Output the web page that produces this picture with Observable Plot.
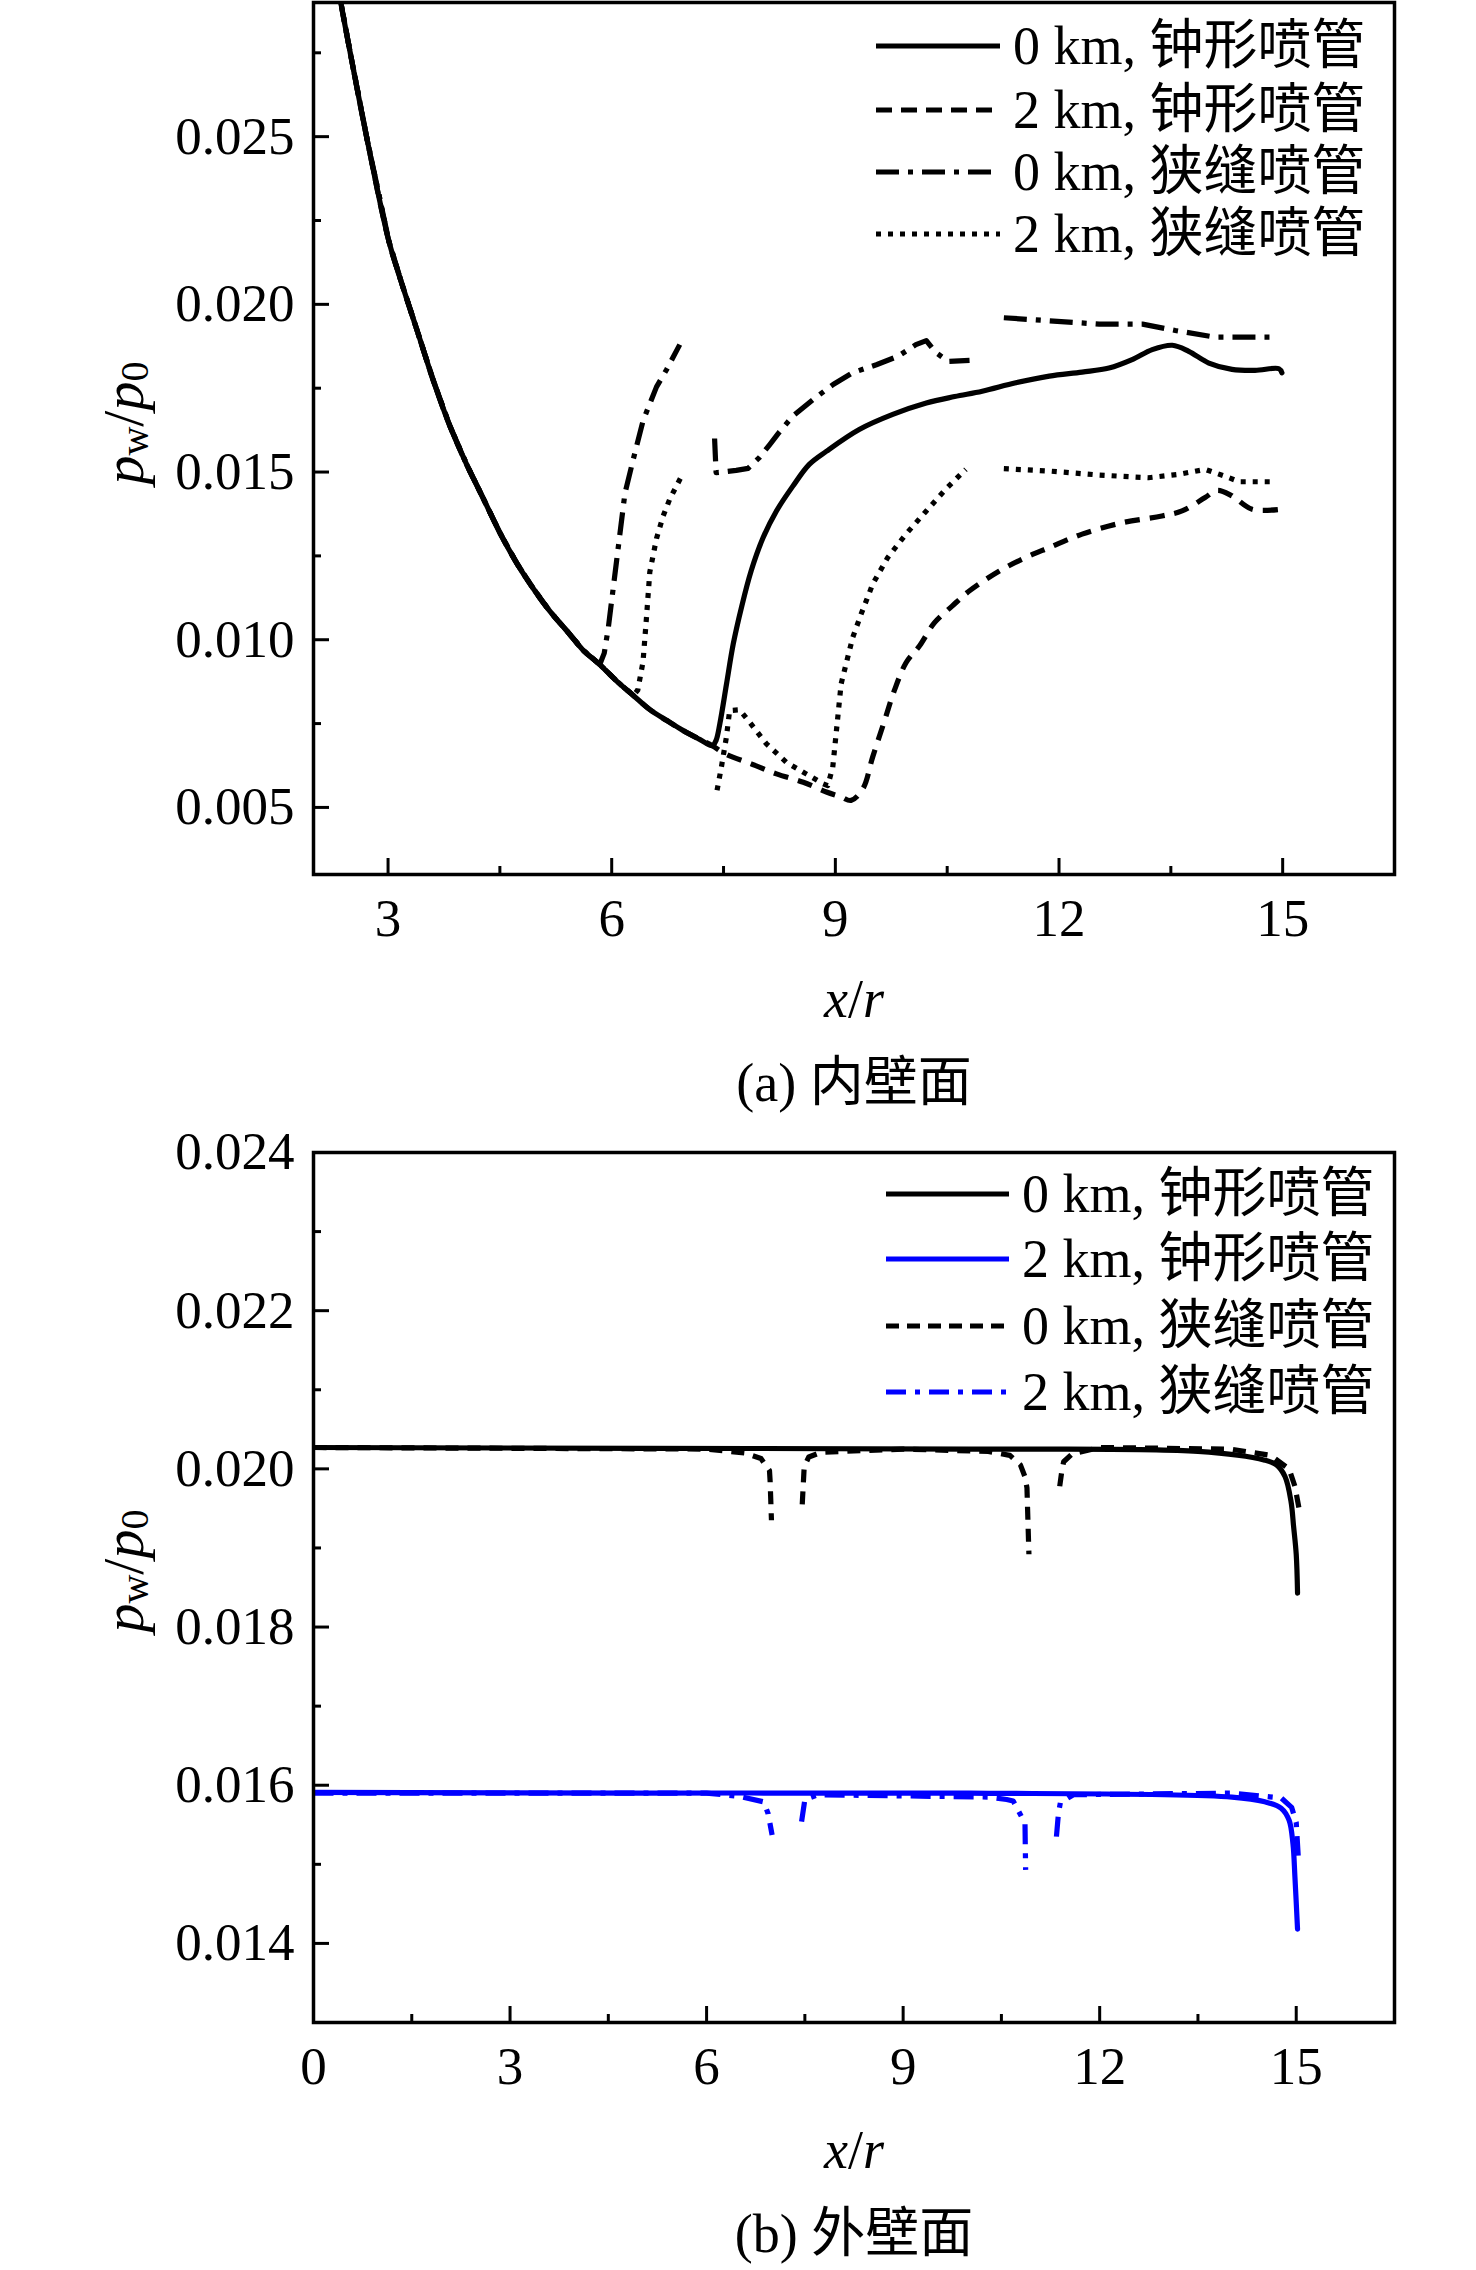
<!DOCTYPE html>
<html><head><meta charset="utf-8">
<script src="https://cdn.jsdelivr.net/npm/d3@7"></script>
<script src="https://cdn.jsdelivr.net/npm/@observablehq/plot@0.6"></script>
<style>
body{margin:0;background:#fff;}
#wrap{width:1476px;height:2270px;position:relative;overflow:hidden;background:#fff;}
#wrap svg{display:block;}
</style></head><body><div id="wrap"></div>
<script>
const FONT = '"Liberation Serif","Times New Roman","Noto Sans CJK SC",serif';

// ---------- (a) inner wall ----------
const earlyX = [2.33, 2.36, 2.50, 2.72, 3.01, 3.17, 3.39, 3.61, 3.83, 4.06, 4.28, 4.50, 4.73, 4.95, 5.17, 5.40, 5.62, 5.84];
const earlyY = [0.0296, 0.02909, 0.02742, 0.02491, 0.02189, 0.02072, 0.01922, 0.01771, 0.01637, 0.01520, 0.01420, 0.01319, 0.01227, 0.01152, 0.01085, 0.01026, 0.00968, 0.00926];
const midX = [6.07, 6.29, 6.51, 6.74, 6.96, 7.18, 7.35];
const midY = [0.00876, 0.00834, 0.00792, 0.00759, 0.00729, 0.00703, 0.00684];

const bell0X = [7.40, 7.45, 7.54, 7.63, 7.74, 7.87, 8.03, 8.21, 8.43, 8.65, 8.88, 9.32, 9.77, 10.22, 10.60, 10.97, 11.42, 11.87, 12.31, 12.67, 12.98, 13.25, 13.52, 13.74, 14.01, 14.32, 14.63, 14.95, 14.99];
const bell0Y = [0.00700, 0.00749, 0.00868, 0.00987, 0.01096, 0.01205, 0.01304, 0.01384, 0.01458, 0.01523, 0.01562, 0.01627, 0.01672, 0.01706, 0.01725, 0.01741, 0.01766, 0.01786, 0.01798, 0.01810, 0.01835, 0.01865, 0.01878, 0.01860, 0.01825, 0.01806, 0.01803, 0.01808, 0.01796];

const bell2X = [7.52, 7.87, 8.21, 8.57, 8.88, 9.08, 9.21, 9.37, 9.50, 9.66, 9.79, 9.95, 10.13, 10.33, 10.57, 10.80, 11.20, 11.55, 11.87, 12.31, 12.85, 13.38, 13.65, 13.96, 14.12, 14.32, 14.59, 14.97];
const bell2Y = [0.00660, 0.00630, 0.00600, 0.00575, 0.00546, 0.00531, 0.00521, 0.00556, 0.00650, 0.00759, 0.00848, 0.00932, 0.00982, 0.01051, 0.01101, 0.01146, 0.01205, 0.01245, 0.01275, 0.01315, 0.01349, 0.01369, 0.01384, 0.01424, 0.01445, 0.01429, 0.01389, 0.01389];

const slit0X = [5.90, 5.954, 6.066, 6.177, 6.288, 6.422, 6.601, 6.735, 6.913, null,
  7.38, 7.40, 7.67, 7.83, 7.98, 8.12, 8.23, 8.43, 8.70, 8.97, 9.23, 9.55, 9.84, 10.08, 10.22, 10.34, 10.51, 10.80, null,
  11.26, 11.87, 12.54, 13.12, 13.56, 14.10, 14.92];
const slit0Y = [0.00960, 0.01035, 0.01236, 0.01436, 0.01537, 0.01654, 0.01754, 0.01805, 0.01880, null,
  0.01600, 0.01498, 0.01505, 0.01511, 0.01543, 0.01582, 0.01614, 0.01667, 0.01716, 0.01761, 0.01796, 0.01820, 0.01845, 0.01880, 0.01892, 0.01858, 0.01830, 0.01833, null,
  0.01960, 0.01951, 0.01941, 0.01941, 0.01922, 0.01902, 0.01902];

const slit2X = [6.35, 6.42, 6.467, 6.511, 6.601, 6.69, 6.78, 6.935, null,
  7.413, 7.471, 7.538, 7.582, 7.716, 7.85, 8.073, 8.341, 8.608, 8.831, 8.898, 8.965, 9.01, 9.077, 9.144, 9.233, 9.345, 9.501, 9.702, 9.947, 10.22, 10.48, 10.75, null,
  11.26, 11.87, 12.54, 13.20, 13.60, 13.96, 14.22, 14.42, 14.92];
const slit2Y = [0.00850, 0.00934, 0.01068, 0.01202, 0.01302, 0.01369, 0.01420, 0.01487, null,
  0.00551, 0.00620, 0.00709, 0.00789, 0.00791, 0.00754, 0.00690, 0.00635, 0.00600, 0.00571, 0.00565, 0.00620, 0.00719, 0.00868, 0.00928, 0.01007, 0.01076, 0.01166, 0.01245, 0.01315, 0.01384, 0.01449, 0.01508, null,
  0.01510, 0.01503, 0.01491, 0.01483, 0.01493, 0.01508, 0.01488, 0.01471, 0.01471];

const topXMajor = [3, 6, 9, 12, 15];
const topXMinor = [4.5, 7.5, 10.5, 13.5];
const topYMajor = [0.005, 0.010, 0.015, 0.020, 0.025];
const topYMinor = [0.0075, 0.0125, 0.0175, 0.0225, 0.0275];
const topLabels = ["0 km, 钟形喷管", "2 km, 钟形喷管", "0 km, 狭缝喷管", "2 km, 狭缝喷管"];

// ---------- (b) outer wall ----------
const oBell0X = [0, 5, 10, 13.5, 14.52, 14.70, 14.83, 14.92, 14.96, 15.00, 15.02];
const oBell0Y = [0.02027, 0.02026, 0.02025, 0.02022, 0.02011, 0.02005, 0.01990, 0.01959, 0.01927, 0.01892, 0.01843];
const oBell2X = [0, 5, 10, 14.02, 14.52, 14.77, 14.89, 14.95, 14.98, 15.02];
const oBell2Y = [0.01591, 0.01590, 0.01590, 0.01585, 0.01579, 0.01571, 0.01556, 0.01526, 0.01484, 0.01418];
const oSlit0X = [0, 6.0, 6.58, 6.83, 6.96, 6.97, 6.99, null, 7.46, 7.49, 7.56, 7.75, 9.0, 10.30, 10.63, 10.79, 10.86, 10.89, 10.92, null, 11.39, 11.42, 11.45, 11.58, 12.0, 14.0, 14.61, 14.89, 14.98, 15.04];
const oSlit0Y = [0.02027, 0.02025, 0.02020, 0.02013, 0.01998, 0.01984, 0.01935, null, 0.01955, 0.02003, 0.02015, 0.02021, 0.02025, 0.02022, 0.02017, 0.02005, 0.01990, 0.01976, 0.01892, null, 0.01978, 0.01996, 0.02009, 0.02019, 0.02027, 0.02025, 0.02017, 0.02000, 0.01978, 0.01951];
const oSlit2X = [0, 6.0, 6.5, 6.87, 6.94, 7.0, null, 7.45, 7.50, 7.7, 10.30, 10.58, 10.68, 10.86, 10.865, 10.87, null, 11.34, 11.37, 11.40, 11.6, 14.0, 14.77, 14.93, 15.0, 15.03];
const oSlit2Y = [0.01590, 0.01590, 0.01586, 0.01579, 0.01564, 0.01537, null, 0.01554, 0.01582, 0.01588, 0.01585, 0.01582, 0.01580, 0.01552, 0.01520, 0.01493, null, 0.01535, 0.01564, 0.01578, 0.01588, 0.01590, 0.01584, 0.01572, 0.01553, 0.01511];

const botXMajor = [0, 3, 6, 9, 12, 15];
const botXMinor = [1.5, 4.5, 7.5, 10.5, 13.5];
const botYMajor = [0.014, 0.016, 0.018, 0.020, 0.022, 0.024];
const botYMinor = [0.015, 0.017, 0.019, 0.021, 0.023];
const botLabels = ["0 km, 钟形喷管", "2 km, 钟形喷管", "0 km, 狭缝喷管", "2 km, 狭缝喷管"];

const BLUE = "#0000ff";

function rows(xs, ys) { return xs.map((x, i) => ({x, y: ys[i]})); }

// series tables (early parts shared with the bell curve, drawn beneath it)
const tBell0 = rows([...earlyX, ...midX, ...bell0X], [...earlyY, ...midY, ...bell0Y]);
const tBell2 = rows([...earlyX, ...midX, ...bell2X], [...earlyY, ...midY, ...bell2Y]);
const tSlit0 = rows([...earlyX, ...slit0X], [...earlyY, ...slit0Y]);
const tSlit2 = rows([...earlyX, 6.07, 6.29, ...slit2X], [...earlyY, 0.00876, 0.00834, ...slit2Y]);

const LW = 5.2;
const DASH_A = "15,10", DOT_A = "5,7", DASHDOT_A = "23,9,5,9";
const DASH_B = "13,9", DASHDOT_B = "20,9,5,9";

function axes(xMaj, xMin, yMaj, yMin, fmtY) {
  return [
    Plot.axisX(xMaj, {tickSize: -16, strokeWidth: 3, fill: "none", label: null}),
    Plot.axisX(xMin, {tickSize: -8, strokeWidth: 3, fill: "none", label: null}),
    Plot.axisX(xMaj, {tickSize: 0, tickPadding: 24, fontSize: 53, fontFamily: FONT, label: null, tickFormat: d => String(d)}),
    Plot.axisY(yMaj, {tickSize: -16, strokeWidth: 3, fill: "none", label: null}),
    Plot.axisY(yMin, {tickSize: -8, strokeWidth: 3, fill: "none", label: null}),
    Plot.axisY(yMaj, {tickSize: 0, tickPadding: 19, fontSize: 53, fontFamily: FONT, label: null, tickFormat: fmtY}),
    Plot.frame({strokeWidth: 3.5, stroke: "black"})
  ];
}

const fmt3 = d3.format(".3f");

const chartA = Plot.plot({
  width: 1476, height: 1120,
  marginTop: 2, marginBottom: 246, marginLeft: 313, marginRight: 82,
  style: {fontFamily: FONT, background: "white", color: "black"},
  x: {domain: [2, 16.5]},
  y: {domain: [0.003, 0.029]},
  marks: [
    Plot.line(tSlit2, {x: "x", y: "y", stroke: "black", strokeWidth: LW, strokeDasharray: DOT_A, strokeLinecap: "butt", clip: true}),
    Plot.line(tSlit0, {x: "x", y: "y", stroke: "black", strokeWidth: LW, strokeDasharray: DASHDOT_A, strokeLinecap: "butt", clip: true}),
    Plot.line(tBell2, {x: "x", y: "y", stroke: "black", strokeWidth: LW, strokeDasharray: DASH_A, strokeLinecap: "butt", curve: "catmull-rom", clip: true}),
    Plot.line(tBell0, {x: "x", y: "y", stroke: "black", strokeWidth: LW, curve: "catmull-rom", clip: true}),
    ...axes(topXMajor, topXMinor, topYMajor, topYMinor, fmt3)
  ]
});

const chartB = Plot.plot({
  width: 1476, height: 1150,
  marginTop: 32, marginBottom: 248, marginLeft: 313, marginRight: 82,
  style: {fontFamily: FONT, background: "white", color: "black"},
  x: {domain: [0, 16.5]},
  y: {domain: [0.013, 0.024]},
  marks: [
    Plot.line(rows(oBell0X, oBell0Y), {x: "x", y: "y", stroke: "black", strokeWidth: LW, curve: "catmull-rom", clip: true}),
    Plot.line(rows(oBell2X, oBell2Y), {x: "x", y: "y", stroke: BLUE, strokeWidth: LW, curve: "catmull-rom", clip: true}),
    Plot.line(rows(oSlit0X, oSlit0Y), {x: "x", y: "y", stroke: "black", strokeWidth: LW, strokeDasharray: DASH_B, strokeLinecap: "butt", clip: true}),
    Plot.line(rows(oSlit2X, oSlit2Y), {x: "x", y: "y", stroke: BLUE, strokeWidth: LW, strokeDasharray: DASHDOT_B, strokeLinecap: "butt", clip: true}),
    ...axes(botXMajor, botXMinor, botYMajor, botYMinor, fmt3)
  ]
});

const wrap = document.getElementById("wrap");
wrap.appendChild(chartA);
wrap.appendChild(chartB);

function addText(svg, x, y, parts, opts = {}) {
  const t = d3.select(svg).append("text")
    .attr("x", x).attr("y", y)
    .attr("font-family", FONT).attr("font-size", opts.size || 54)
    .attr("fill", "black")
    .attr("text-anchor", opts.anchor || "middle")
    .attr("dominant-baseline", "central");
  if (opts.rotate) t.attr("transform", `rotate(${opts.rotate},${x},${y})`);
  for (const p of parts) {
    const s = t.append("tspan").text(p.t);
    if (p.i) s.attr("font-style", "italic");
    if (p.size) s.attr("font-size", p.size);
    if (p.dy) s.attr("dy", p.dy);
  }
  return t;
}

function legend(svg, labels, styles, x1, x2, tx, ys) {
  const g = d3.select(svg).append("g");
  labels.forEach((lab, i) => {
    const st = styles[i];
    g.append("line").attr("x1", x1).attr("x2", x2).attr("y1", ys[i]).attr("y2", ys[i])
      .attr("stroke", st.color).attr("stroke-width", st.width)
      .attr("stroke-dasharray", st.dash || null);
    g.append("text").attr("x", tx).attr("y", ys[i])
      .attr("font-family", FONT).attr("font-size", 54).attr("fill", "black")
      .attr("text-anchor", "start")
      .attr("dominant-baseline", "central").text(lab);
  });
}

function yLabel(svg, x, y) {
  addText(svg, x, y, [
    {t: "p", i: true},
    {t: "w", size: 40, dy: 11},
    {t: "/", dy: -11},
    {t: "p", i: true},
    {t: "0", size: 40, dy: 11}
  ], {rotate: -90, size: 58});
}

// chart (a) annotations
legend(chartA, topLabels, [
  {color: "black", width: LW},
  {color: "black", width: LW, dash: "16,9"},
  {color: "black", width: LW, dash: "23,9,5,9"},
  {color: "black", width: LW, dash: "5,7"}
], 876, 1000, 1013, [46, 110, 172, 234]);
addText(chartA, 854, 999, [{t: "x", i: true}, {t: "/"}, {t: "r", i: true}]);
addText(chartA, 854, 1083, [{t: "(a) 内壁面"}]);
yLabel(chartA, 123, 423);

// chart (b) annotations
legend(chartB, botLabels, [
  {color: "black", width: LW},
  {color: BLUE, width: LW},
  {color: "black", width: LW, dash: "13,8"},
  {color: BLUE, width: LW, dash: "20,9,5,9"}
], 886, 1009, 1022, [74, 139, 206, 272]);
addText(chartB, 854, 1030, [{t: "x", i: true}, {t: "/"}, {t: "r", i: true}]);
addText(chartB, 854, 1114, [{t: "(b) 外壁面"}]);
yLabel(chartB, 123, 451);
</script>
</body></html>
